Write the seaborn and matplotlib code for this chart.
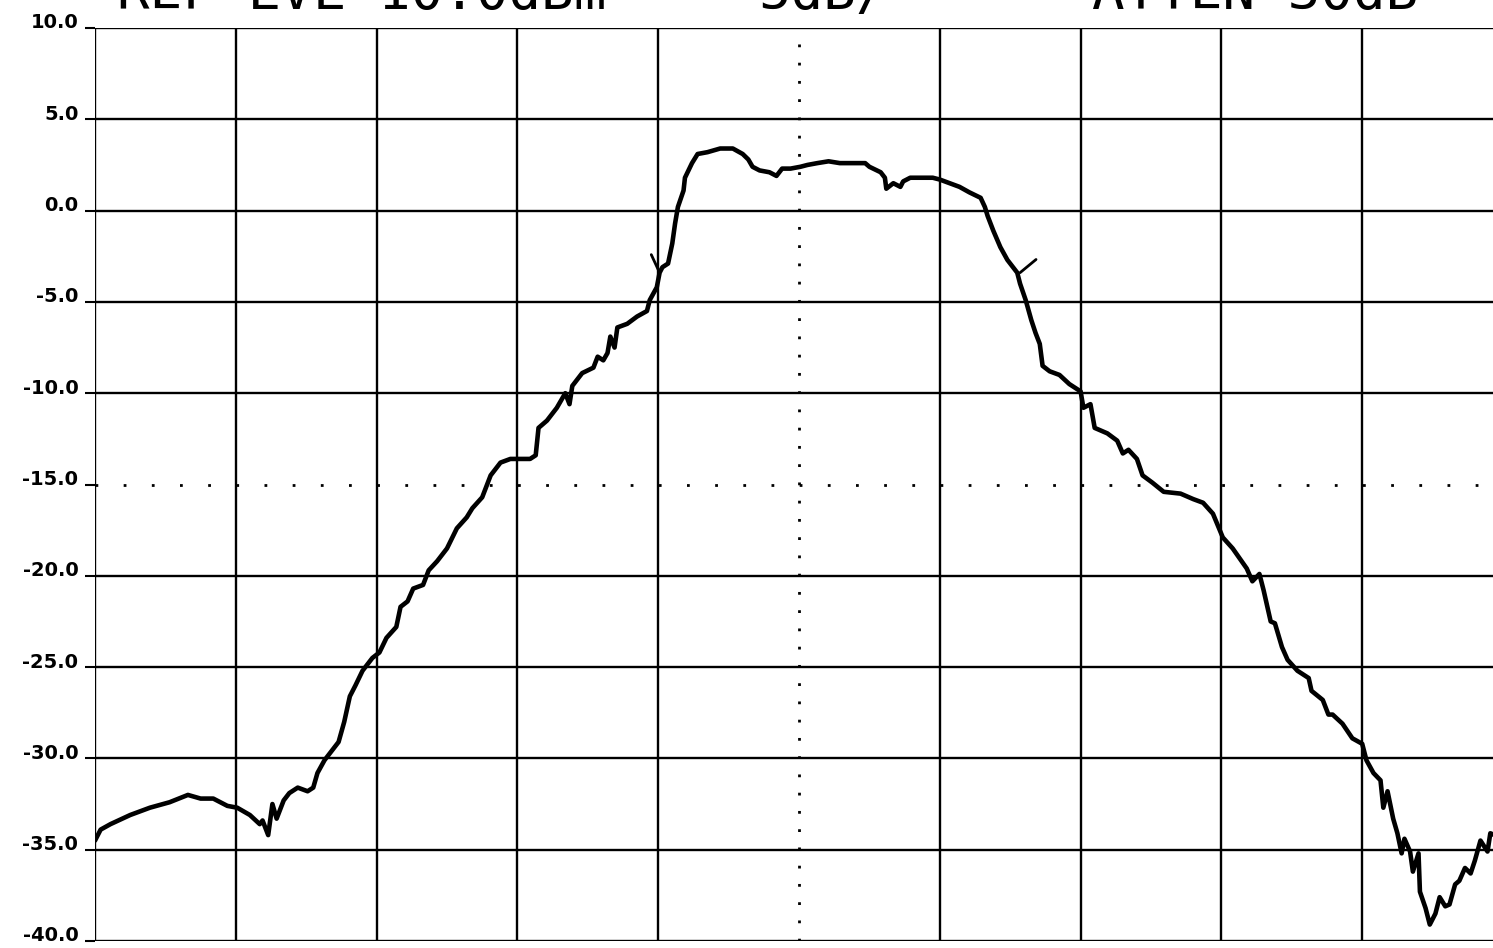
import matplotlib
matplotlib.use("Agg")
import matplotlib.pyplot as plt
import matplotlib.transforms as mtransforms
import pandas as pd
import seaborn as sns

# trace: x in graticule divisions (0..10), y in dBm
trace_x = [
    0.00, 0.04, 0.11, 0.25, 0.39, 0.53, 0.66, 0.75, 0.84, 0.94,
    1.01, 1.10, 1.17, 1.19, 1.23, 1.26, 1.29, 1.34, 1.38, 1.44,
    1.51, 1.55, 1.58, 1.63, 1.67, 1.73, 1.77, 1.81, 1.85, 1.90,
    1.97, 2.02, 2.07, 2.14, 2.17, 2.22, 2.26, 2.33, 2.37, 2.43,
    2.50, 2.57, 2.64, 2.68, 2.75, 2.81, 2.88, 2.95, 3.09, 3.13,
    3.15, 3.21, 3.28, 3.34, 3.37, 3.39, 3.46, 3.54, 3.57, 3.61,
    3.64, 3.66, 3.69, 3.71, 3.78, 3.85, 3.92, 3.94, 3.99, 4.01,
    4.03, 4.07, 4.10, 4.12, 4.14, 4.18, 4.19, 4.24, 4.28, 4.35,
    4.44, 4.53, 4.60, 4.64, 4.67, 4.72, 4.79, 4.84, 4.88, 4.94,
    5.01, 5.06, 5.13, 5.21, 5.29, 5.38, 5.47, 5.50, 5.58, 5.61,
    5.62, 5.67, 5.72, 5.74, 5.79, 5.86, 5.95, 6.00, 6.07, 6.14,
    6.21, 6.29, 6.32, 6.34, 6.38, 6.43, 6.48, 6.55, 6.57, 6.61,
    6.65, 6.68, 6.71, 6.73, 6.78, 6.85, 6.92, 7.00, 7.02, 7.07,
    7.10, 7.19, 7.26, 7.30, 7.34, 7.40, 7.44, 7.51, 7.59, 7.71,
    7.80, 7.87, 7.94, 8.01, 8.08, 8.18, 8.22, 8.27, 8.30, 8.35,
    8.38, 8.43, 8.47, 8.54, 8.62, 8.64, 8.72, 8.76, 8.79, 8.86,
    8.93, 9.00, 9.03, 9.08, 9.13, 9.15, 9.18, 9.22, 9.25, 9.28,
    9.30, 9.34, 9.36, 9.40, 9.41, 9.45, 9.48, 9.52, 9.55, 9.59,
    9.62, 9.66, 9.69, 9.73, 9.77, 9.80, 9.84, 9.89, 9.91, 9.94,
    9.98,
]
trace_db = [
    -34.5, -33.9, -33.6, -33.1, -32.7, -32.4, -32.0, -32.2, -32.2, -32.6,
    -32.7, -33.1, -33.6, -33.4, -34.2, -32.5, -33.3, -32.3, -31.9, -31.6,
    -31.8, -31.6, -30.8, -30.1, -29.7, -29.1, -28.0, -26.6, -26.0, -25.2,
    -24.5, -24.2, -23.4, -22.8, -21.7, -21.4, -20.7, -20.5, -19.7, -19.2,
    -18.5, -17.4, -16.8, -16.3, -15.7, -14.5, -13.8, -13.6, -13.6, -13.4,
    -11.9, -11.5, -10.8, -10.0, -10.6, -9.6, -8.9, -8.6, -8.0, -8.2,
    -7.8, -6.9, -7.5, -6.4, -6.2, -5.8, -5.5, -4.9, -4.2, -3.4,
    -3.1, -2.9, -1.8, -0.7, 0.2, 1.1, 1.8, 2.6, 3.1, 3.2,
    3.4, 3.4, 3.1, 2.8, 2.4, 2.2, 2.1, 1.9, 2.3, 2.3,
    2.4, 2.5, 2.6, 2.7, 2.6, 2.6, 2.6, 2.4, 2.1, 1.8,
    1.2, 1.5, 1.3, 1.6, 1.8, 1.8, 1.8, 1.7, 1.5, 1.3,
    1.0, 0.7, 0.2, -0.3, -1.1, -2.0, -2.7, -3.4, -4.0, -4.9,
    -6.0, -6.7, -7.3, -8.5, -8.8, -9.0, -9.5, -9.9, -10.8, -10.6,
    -11.9, -12.2, -12.6, -13.3, -13.1, -13.6, -14.5, -14.9, -15.4, -15.5,
    -15.8, -16.0, -16.6, -17.9, -18.5, -19.6, -20.3, -19.9, -20.8, -22.5,
    -22.6, -23.9, -24.6, -25.2, -25.6, -26.3, -26.8, -27.6, -27.6, -28.1,
    -28.9, -29.2, -30.1, -30.8, -31.2, -32.7, -31.8, -33.3, -34.1, -35.2,
    -34.4, -35.1, -36.2, -35.2, -37.3, -38.2, -39.1, -38.5, -37.6, -38.1,
    -38.0, -36.9, -36.7, -36.0, -36.3, -35.6, -34.5, -35.1, -34.1, -34.2,
    -33.8,
]

# markers on the trace (div, dBm) and the direction of their tick (points)
marker_x = [4.01, 6.57]
marker_db = [-3.4, -3.4]
marker_tick = [(-6, 13), (11.5, 9.5)]

y_ticks = [10, 5, 0, -5, -10, -15, -20, -25, -30, -35, -40]
y_labels = ["%.1f" % v for v in y_ticks]
header = [("REF LVL 10.0dBm", 117), ("5dB/", 758), ("ATTEN 30dB", 1092)]

df = pd.DataFrame({"div": trace_x, "dbm": trace_db})

sns.set_style("white")
plt.rcParams["font.family"] = ["DejaVu Sans"]

W, H = 1493, 948
fig = plt.figure(figsize=(W / 100, H / 100), dpi=100)
ax = fig.add_axes([95 / W, 1 - 941 / H, 1408 / W, 913 / H])

# graticule
for v in range(11):
    if v == 5:
        ax.axvline(v, color="black", lw=2, linestyle=(0, (1, 5.57)), zorder=1)
    else:
        ax.axvline(v, color="black", lw=1.7, zorder=1)
for v in y_ticks:
    if v == -15:
        ax.axhline(v, color="black", lw=2, linestyle=(0, (1, 9.14)), zorder=1)
    else:
        ax.axhline(v, color="black", lw=1.7, zorder=1)

sns.lineplot(data=df, x="div", y="dbm", ax=ax, color="black", lw=3.3,
             sort=False, estimator=None, zorder=3)

for mx, my, (dx, dy) in zip(marker_x, marker_db, marker_tick):
    ax.annotate("", xy=(mx, my), xytext=(dx, dy), textcoords="offset points",
                arrowprops=dict(arrowstyle="-", lw=2, color="black",
                                shrinkA=0, shrinkB=0))

ax.set_xlim(0, 10)
ax.set_ylim(-40, 10)
ax.set_xticks([])
ax.set_yticks(y_ticks)
ax.set_yticklabels(y_labels, fontsize=14, fontweight="bold")
ax.tick_params(axis="y", direction="out", length=7, width=1.5, pad=5,
               left=True, colors="black")
ax.set_xlabel("")
ax.set_ylabel("")
for s in ax.spines.values():
    s.set_visible(False)

shift = mtransforms.ScaledTranslation(0, 7 / 100, fig.dpi_scale_trans)
for lab in ax.get_yticklabels():
    lab.set_transform(lab.get_transform() + shift)

# instrument header, cut off by the top edge as in the original print
for txt, px in header:
    fig.text(px / W, 1 - 9 / H, txt, fontsize=39, family="DejaVu Sans Mono",
             ha="left", va="baseline", color="black")

fig.savefig("out.png", dpi=100, facecolor="white")
